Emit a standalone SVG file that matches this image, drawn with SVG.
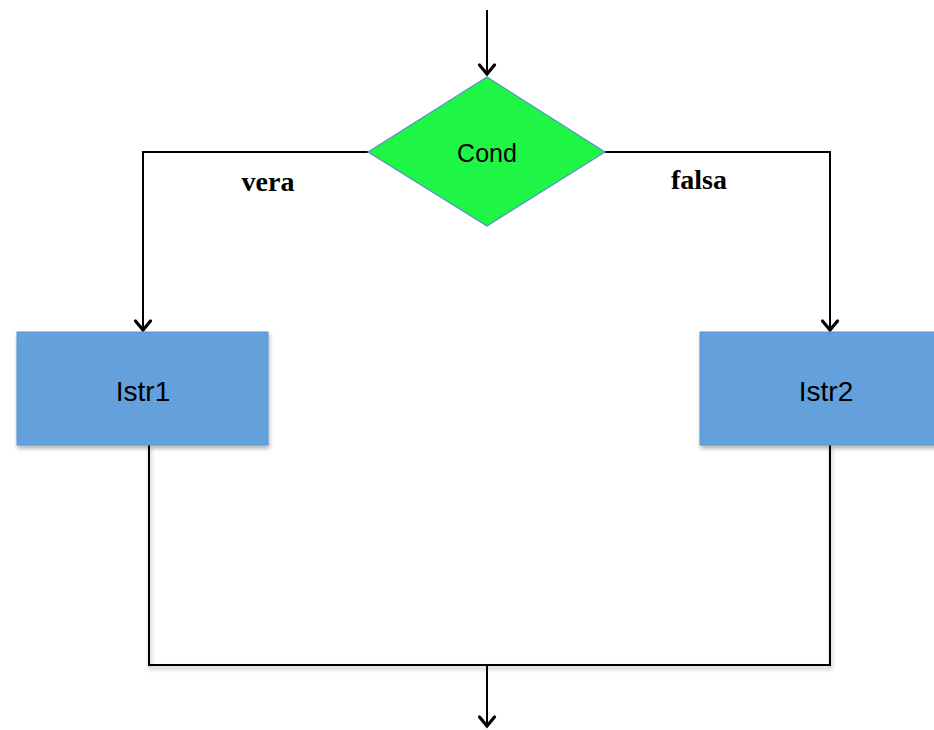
<svg xmlns="http://www.w3.org/2000/svg" width="934" height="730" viewBox="0 0 934 730">
  <defs>
    <marker id="arrow" markerUnits="userSpaceOnUse" markerWidth="24" markerHeight="24" viewBox="-12 -12 24 24" refX="0" refY="0" orient="auto">
      <path d="M -9 -7.5 L 0 0 L -9 7.5" fill="none" stroke="#000" stroke-width="3.2" stroke-linecap="round" stroke-linejoin="miter"/>
    </marker>
    <filter id="shadow" x="-10%" y="-10%" width="125%" height="130%">
      <feDropShadow dx="1" dy="3" stdDeviation="2" flood-color="#000" flood-opacity="0.3"/>
    </filter>
  </defs>
  <style>
    .conn { fill: none; stroke: #000; stroke-width: 2; }
    .box { fill: #64a0dc; stroke: #5b93cf; stroke-width: 1; }
    .diamond { fill: #1ff545; stroke: #5b8fd0; stroke-width: 1.2; }
    .node-text { font-family: "Liberation Sans", Arial, sans-serif; fill: #000; text-anchor: middle; }
    .label { font-family: "Liberation Serif", "Times New Roman", serif; font-weight: bold; font-size: 28px; fill: #000; text-anchor: middle; }
  </style>
  <rect width="934" height="730" fill="#fff"/>

  <g id="connectors">
    <path class="conn" d="M 487 10 L 487 74" marker-end="url(#arrow)"/>
    <path class="conn" d="M 368 152 L 143 152 L 143 330" marker-end="url(#arrow)"/>
    <path class="conn" d="M 605 152 L 830 152 L 830 330" marker-end="url(#arrow)"/>
    <g filter="url(#shadow)">
      <path class="conn" d="M 149 445 L 149 665 L 830 665 L 830 445"/>
    </g>
    <path class="conn" d="M 487 665 L 487 726" marker-end="url(#arrow)"/>
  </g>

  <g id="cond">
    <polygon class="diamond" points="487,77 605,152 487,226 368,152"/>
    <text class="node-text" x="487" y="162" font-size="25">Cond</text>
  </g>

  <g id="istr1">
    <rect class="box" x="17" y="332" width="251" height="113" filter="url(#shadow)"/>
    <text class="node-text" x="143" y="401" font-size="28">Istr1</text>
  </g>

  <g id="istr2">
    <rect class="box" x="700" y="332" width="240" height="113" filter="url(#shadow)"/>
    <text class="node-text" x="826" y="401" font-size="28">Istr2</text>
  </g>

  <g id="labels">
    <text class="label" x="268" y="191">vera</text>
    <text class="label" x="699" y="189">falsa</text>
  </g>
</svg>
